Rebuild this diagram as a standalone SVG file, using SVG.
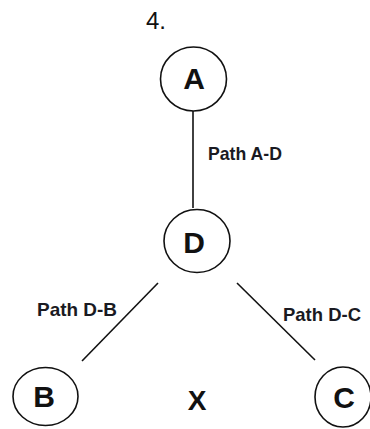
<svg xmlns="http://www.w3.org/2000/svg" width="370" height="429" viewBox="0 0 370 429">
  <style>
    .node { fill: none; stroke: #111; stroke-width: 1.6; }
    .letter { font-family: "Liberation Sans", Arial, sans-serif; font-weight: bold; font-size: 30px; fill: #111; text-anchor: middle; }
    .mark { font-size: 28px; }
    .label { font-family: "Liberation Sans", Arial, sans-serif; font-weight: bold; font-size: 19px; fill: #1a1a22; }
    .edge { stroke: #111; stroke-width: 1.6; fill: none; }
  </style>
  <rect width="370" height="429" fill="#ffffff"/>

  <text x="146" y="29" font-family="Liberation Sans, Arial, sans-serif" font-size="24" fill="#111">4.</text>

  <g id="connectors">
    <line class="edge" x1="193" y1="111" x2="193" y2="208"/>
    <line class="edge" x1="158" y1="283" x2="82" y2="361"/>
    <line class="edge" x1="237" y1="283" x2="315" y2="360"/>
    <text class="label" x="208" y="160" textLength="74" lengthAdjust="spacingAndGlyphs">Path A-D</text>
    <text class="label" x="37" y="316" textLength="80" lengthAdjust="spacingAndGlyphs">Path D-B</text>
    <text class="label" x="283" y="321" textLength="78" lengthAdjust="spacingAndGlyphs">Path D-C</text>
  </g>

  <g id="node-a">
    <ellipse class="node" cx="193.5" cy="79" rx="33" ry="32"/>
    <text class="letter" x="194" y="88.5">A</text>
  </g>
  <g id="node-d">
    <ellipse class="node" cx="197" cy="241" rx="33" ry="31.5"/>
    <text class="letter" x="194" y="253">D</text>
  </g>
  <g id="node-b">
    <ellipse class="node" cx="45.5" cy="396.5" rx="32.5" ry="29"/>
    <text class="letter" x="44" y="407">B</text>
  </g>
  <g id="node-c">
    <ellipse class="node" cx="343" cy="397" rx="28" ry="30"/>
    <text class="letter" x="344" y="408">C</text>
  </g>
  <g id="mark-x">
    <text class="letter mark" x="197" y="410">X</text>
  </g>
</svg>
